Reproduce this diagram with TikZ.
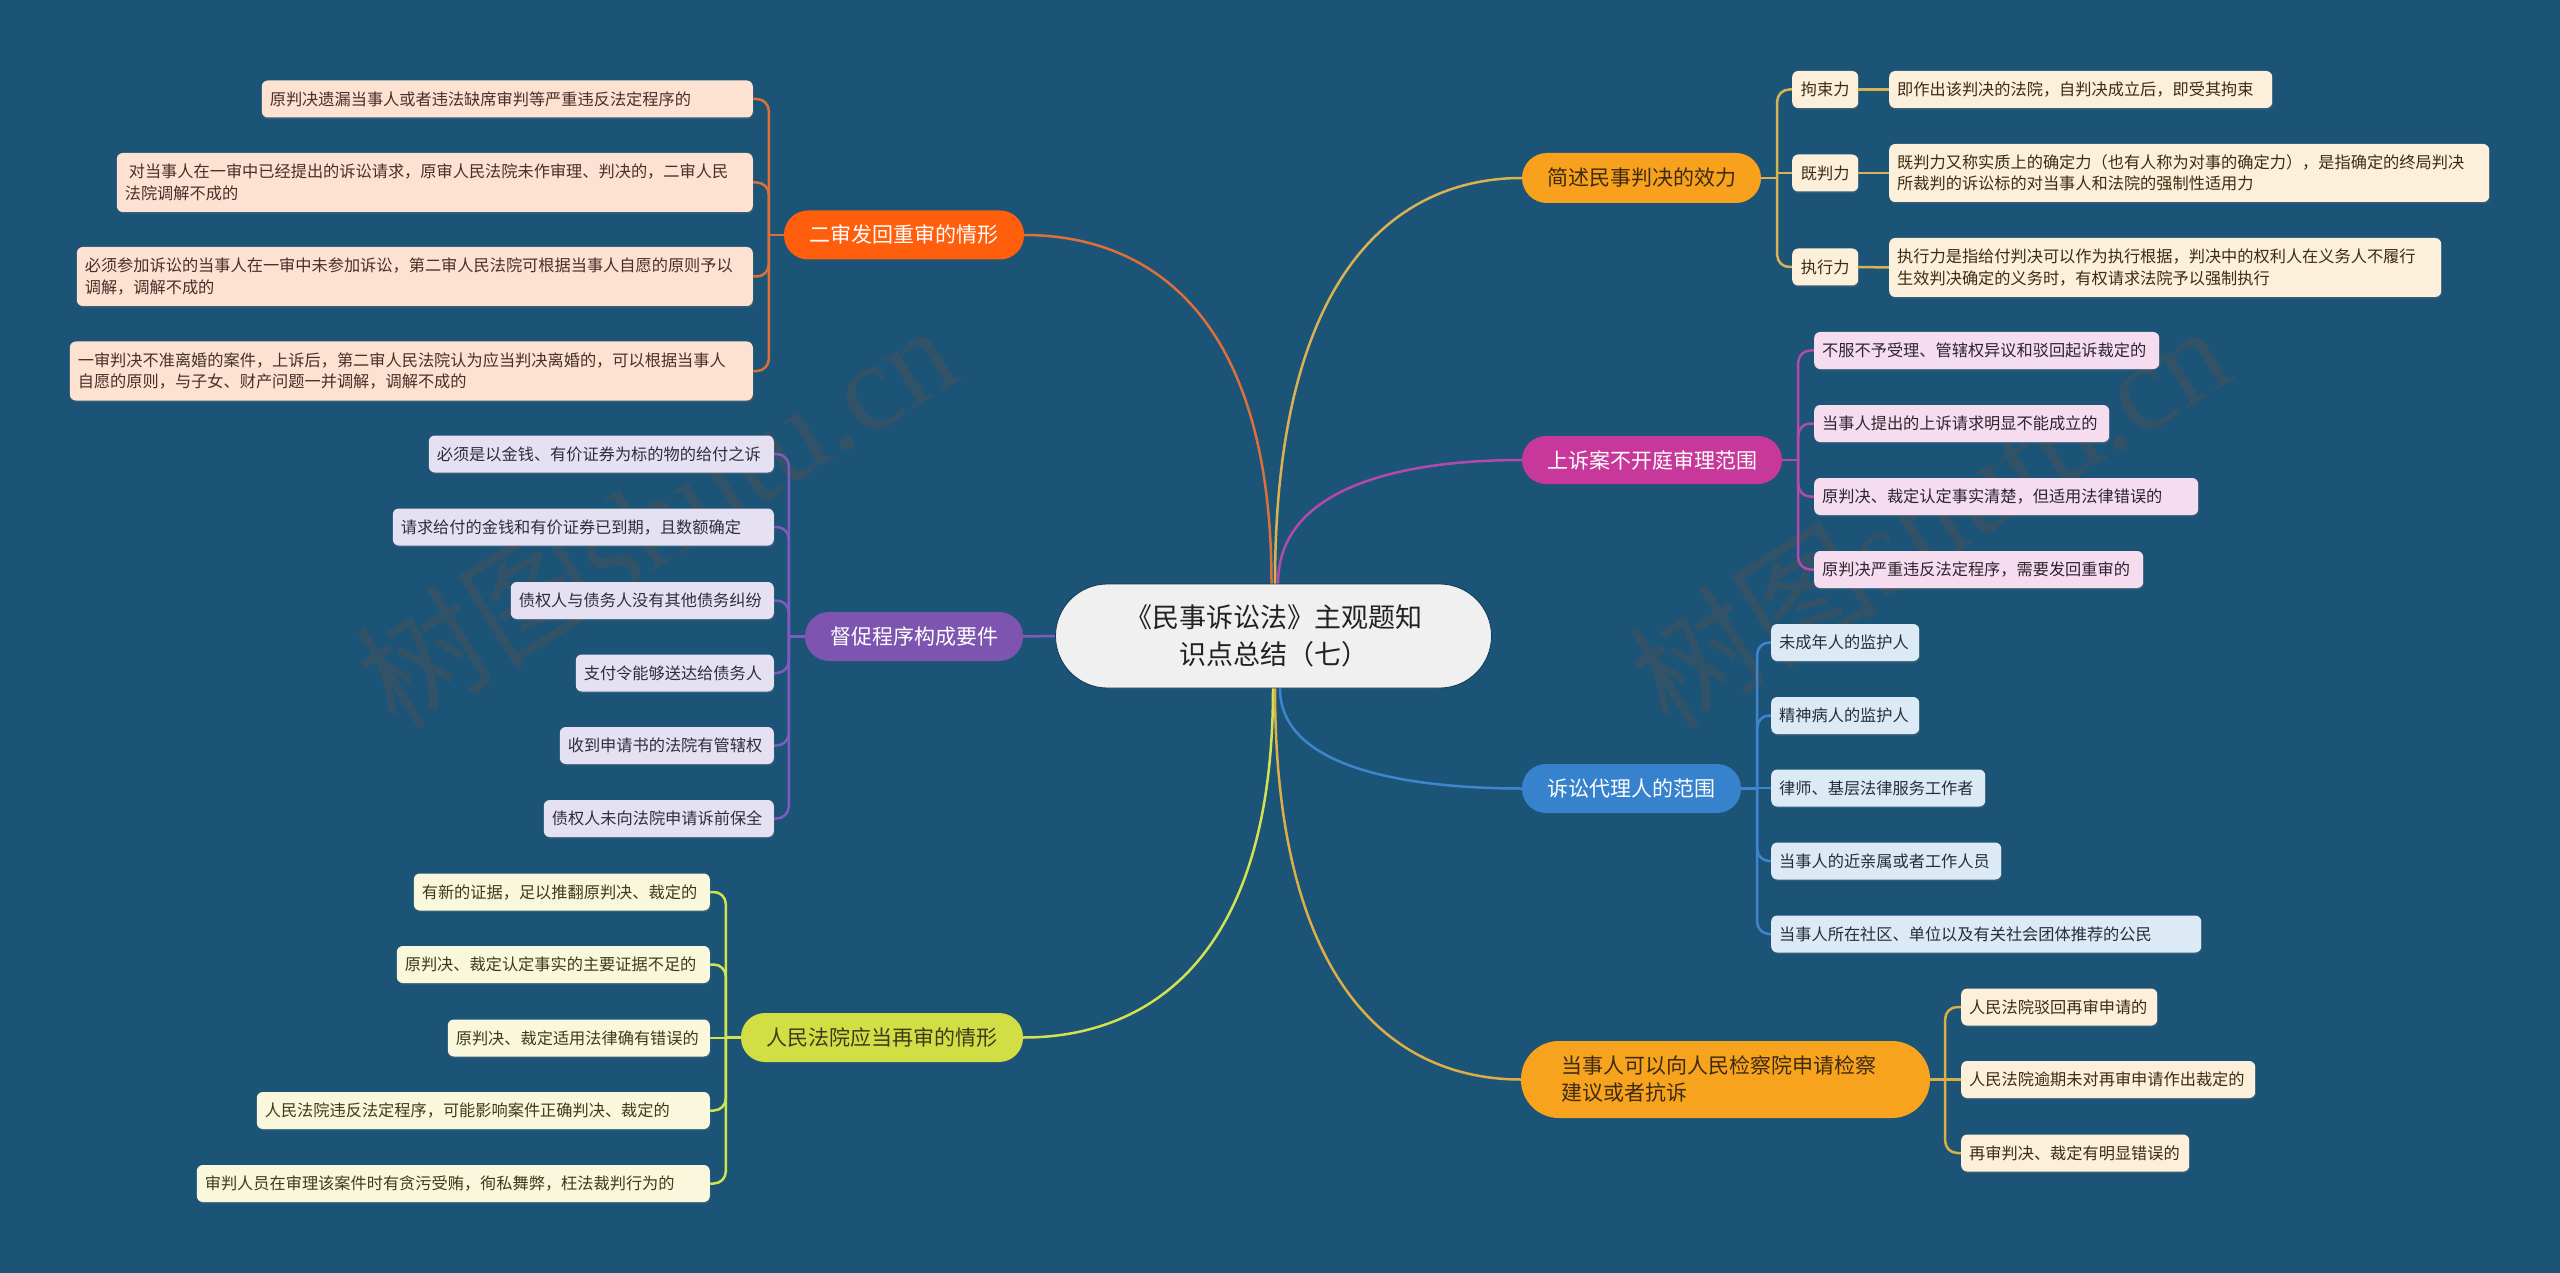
\documentclass[tikz,border=0pt]{standalone}
\usepackage{fontspec}
\setmainfont{Noto Sans CJK SC}
\newfontfamily\wmlatin{Liberation Serif}
\usetikzlibrary{calc,shadows}
\pgfdeclarelayer{back}
\pgfdeclarelayer{conn}
\pgfsetlayers{back,conn,main}

\definecolor{bg}{HTML}{1B5476}
\definecolor{wm}{HTML}{505055}
\definecolor{cfill}{HTML}{F0F0F0}
\definecolor{cedge}{HTML}{0F3A55}
\definecolor{ctext}{HTML}{222222}
\definecolor{brA}{HTML}{FF5E0D}\definecolor{lnA}{HTML}{DC6F3A}\definecolor{lfA}{HTML}{FDE2D1}\definecolor{txA}{HTML}{48302A}
\definecolor{brB}{HTML}{7D55B1}\definecolor{lnB}{HTML}{7E5BBE}\definecolor{lfB}{HTML}{E6E1F2}\definecolor{txB}{HTML}{2E2E3A}
\definecolor{brC}{HTML}{D2DF44}\definecolor{lnC}{HTML}{D3E24F}\definecolor{lfC}{HTML}{FAF8DC}\definecolor{txC}{HTML}{3C3C1C}
\definecolor{brD}{HTML}{F8A11C}\definecolor{lnD}{HTML}{D9B254}\definecolor{lfD}{HTML}{FDF0DA}\definecolor{txD}{HTML}{3D2B12}
\definecolor{brE}{HTML}{C7389A}\definecolor{lnE}{HTML}{B449AD}\definecolor{lfE}{HTML}{F5DCEE}\definecolor{txE}{HTML}{2E2430}
\definecolor{brF}{HTML}{3682CD}\definecolor{lnF}{HTML}{3D86CF}\definecolor{lfF}{HTML}{DCEAF6}\definecolor{txF}{HTML}{22303C}
\definecolor{brG}{HTML}{F8A31D}\definecolor{lnG}{HTML}{DDAD48}\definecolor{lfG}{HTML}{FDF0DA}\definecolor{txG}{HTML}{3D2B12}

\newcommand\leaffont{\fontsize{16.2}{21.5}\selectfont}
\newcommand\brfont{\fontsize{21}{27}\selectfont}
\newcommand\cenfont{\fontsize{27}{37}\selectfont}
\newcommand\wmfont{\fontsize{125}{125}\selectfont}
\newcommand\mmcurve[3]{\draw[#1] (#2) .. controls ($(#2)!0.92!(#2|-#3)$) and ($(#3)!0.3!(#2|-#3)$) .. (#3);}

\tikzset{
  leaf/.style={rounded corners=6pt, inner xsep=8pt, inner ysep=0pt, minimum height=37pt,
    align=left, font=\leaffont,
    drop shadow={opacity=0.25, shadow xshift=0.8pt, shadow yshift=-1.6pt}},
  leafL/.style={leaf, anchor=east},
  leafR/.style={leaf, anchor=west},
  twoline/.style={minimum height=59pt},
  branch/.style={rounded corners=24pt, minimum height=49pt, inner sep=0pt, font=\brfont, align=center},
  conn/.style={line width=2.5pt, line cap=round, line join=round},
  bendconn/.style={conn, rounded corners=12pt},
  wmark/.style={rotate=32, text=wm, opacity=0.45, font=\wmfont, inner sep=0pt}
}

\begin{document}
\begin{tikzpicture}[x=1pt,y=-1pt]
\useasboundingbox (0,0) rectangle (2560,1273);

\begin{pgfonlayer}{back}
\fill[bg] (0,0) rectangle (2560,1273);
\node[wmark] (w1) at (655,515) {树图{\wmlatin shutu.cn}};
\node[wmark] (w2) at (1928,515) {树图{\wmlatin shutu.cn}};
\end{pgfonlayer}

% centre
\node[rounded corners=52pt, minimum width=436pt, minimum height=104pt, inner sep=0pt,
  fill=cfill, draw=cedge, line width=0.8pt, font=\cenfont, align=center, text=ctext]
  (c) at (1273.5,636) {《民事诉讼法》主观题知\\识点总结（七）};

% branches
\node[branch, fill=brA, text=white, minimum width=240pt] (b1) at (904,235) {二审发回重审的情形};
\node[branch, fill=brB, text=white, minimum width=218pt] (b2) at (914,636.5) {督促程序构成要件};
\node[branch, fill=brC, text=txC, minimum width=282pt] (b3) at (882,1037.5) {人民法院应当再审的情形};
\node[branch, fill=brD, text=txD, minimum width=239pt, minimum height=50pt, rounded corners=25pt] (b4) at (1641.5,178) {简述民事判决的效力};
\node[branch, fill=brE, text=white, minimum width=260pt, minimum height=48pt] (b5) at (1652,460) {上诉案不开庭审理范围};
\node[branch, fill=brF, text=white, minimum width=219pt] (b6) at (1631.5,788.5) {诉讼代理人的范围};
\node[branch, fill=brG, text=txG, minimum height=77pt, rounded corners=38pt, inner xsep=40pt,
  text width=329pt, align=left] (b7) at (1725.5,1079.5) {当事人可以向人民检察院申请检察\\建议或者抗诉};

% b1 leaves
\node[leafL, fill=lfA, text=txA, text width=475pt] (a1) at (753,99) {原判决遗漏当事人或者违法缺席审判等严重违反法定程序的};
\node[leafL, twoline, fill=lfA, text=txA, text width=620pt] (a2) at (753,182.5) {\hspace*{4pt}对当事人在一审中已经提出的诉讼请求，原审人民法院未作审理、判决的，二审人民\\法院调解不成的};
\node[leafL, twoline, fill=lfA, text=txA, text width=660pt] (a3) at (753,276.5) {必须参加诉讼的当事人在一审中未参加诉讼，第二审人民法院可根据当事人自愿的原则予以\\调解，调解不成的};
\node[leafL, twoline, fill=lfA, text=txA, text width=667pt] (a4) at (753,371) {一审判决不准离婚的案件，上诉后，第二审人民法院认为应当判决离婚的，可以根据当事人\\自愿的原则，与子女、财产问题一并调解，调解不成的};

% b2 leaves
\node[leafL, fill=lfB, text=txB, text width=329pt] (d1) at (774,454) {必须是以金钱、有价证券为标的物的给付之诉};
\node[leafL, fill=lfB, text=txB, text width=365pt] (d2) at (774,527) {请求给付的金钱和有价证券已到期，且数额确定};
\node[leafL, fill=lfB, text=txB, text width=247pt] (d3) at (774,600.5) {债权人与债务人没有其他债务纠纷};
\node[leafL, fill=lfB, text=txB, text width=182pt] (d4) at (774,673) {支付令能够送达给债务人};
\node[leafL, fill=lfB, text=txB, text width=198pt] (d5) at (774,745.5) {收到申请书的法院有管辖权};
\node[leafL, fill=lfB, text=txB, text width=214pt] (d6) at (774,818.5) {债权人未向法院申请诉前保全};

% b3 leaves
\node[leafL, fill=lfC, text=txC, text width=280pt] (e1) at (710,892) {有新的证据，足以推翻原判决、裁定的};
\node[leafL, fill=lfC, text=txC, text width=297pt] (e2) at (710,964.5) {原判决、裁定认定事实的主要证据不足的};
\node[leafL, fill=lfC, text=txC, text width=246pt] (e3) at (710,1038) {原判决、裁定适用法律确有错误的};
\node[leafL, fill=lfC, text=txC, text width=437pt] (e4) at (710,1110.5) {人民法院违反法定程序，可能影响案件正确判决、裁定的};
\node[leafL, fill=lfC, text=txC, text width=497pt] (e5) at (710,1183.5) {审判人员在审理该案件时有贪污受贿，徇私舞弊，枉法裁判行为的};

% b4 sub-labels and leaves
\node[leafR, fill=lfD, text=txD, minimum width=66pt, inner xsep=0pt, align=center] (s1) at (1792,89.5) {拘束力};
\node[leafR, fill=lfD, text=txD, minimum width=66pt, inner xsep=0pt, align=center] (s2) at (1792,173) {既判力};
\node[leafR, fill=lfD, text=txD, minimum width=66pt, inner xsep=0pt, align=center] (s3) at (1792,267) {执行力};
\node[leafR, fill=lfD, text=txD, text width=367pt] (f1) at (1889,89.5) {即作出该判决的法院，自判决成立后，即受其拘束};
\node[leafR, fill=lfD, text=txD, text width=584pt, minimum height=58pt] (f2) at (1889,173) {既判力又称实质上的确定力（也有人称为对事的确定力），是指确定的终局判决\\所裁判的诉讼标的对当事人和法院的强制性适用力};
\node[leafR, twoline, fill=lfD, text=txD, text width=536pt] (f3) at (1889,267.5) {执行力是指给付判决可以作为执行根据，判决中的权利人在义务人不履行\\生效判决确定的义务时，有权请求法院予以强制执行};

% b5 leaves
\node[leafR, fill=lfE, text=txE, text width=329pt] (g1) at (1814,350.5) {不服不予受理、管辖权异议和驳回起诉裁定的};
\node[leafR, fill=lfE, text=txE, text width=279pt] (g2) at (1814,423.5) {当事人提出的上诉请求明显不能成立的};
\node[leafR, fill=lfE, text=txE, text width=368pt] (g3) at (1814,496.5) {原判决、裁定认定事实清楚，但适用法律错误的};
\node[leafR, fill=lfE, text=txE, text width=313pt] (g4) at (1814,569.5) {原判决严重违反法定程序，需要发回重审的};

% b6 leaves
\node[leafR, fill=lfF, text=txF, text width=132pt] (h1) at (1771,642.5) {未成年人的监护人};
\node[leafR, fill=lfF, text=txF, text width=132pt] (h2) at (1771,715.5) {精神病人的监护人};
\node[leafR, fill=lfF, text=txF, text width=198pt] (h3) at (1771,788) {律师、基层法律服务工作者};
\node[leafR, fill=lfF, text=txF, text width=214pt] (h4) at (1771,861) {当事人的近亲属或者工作人员};
\node[leafR, fill=lfF, text=txF, text width=414pt] (h5) at (1771,934) {当事人所在社区、单位以及有关社会团体推荐的公民};

% b7 leaves
\node[leafR, fill=lfG, text=txG, text width=180pt] (k1) at (1961,1007) {人民法院驳回再审申请的};
\node[leafR, fill=lfG, text=txG, text width=278pt] (k2) at (1961,1079.5) {人民法院逾期未对再审申请作出裁定的};
\node[leafR, fill=lfG, text=txG, text width=212pt] (k3) at (1961,1153) {再审判决、裁定有明显错误的};

% connectors
\begin{pgfonlayer}{conn}
\coordinate (t1) at ([xshift=-2pt]c.north);
\coordinate (t4) at ([xshift=1.5pt]c.north);
\coordinate (t5) at ([xshift=4.5pt]c.north);
\coordinate (u3) at ([xshift=-0.5pt]c.south);
\coordinate (u7) at ([xshift=1.5pt]c.south);
\coordinate (u6) at ([xshift=6.5pt]c.south);
\mmcurve{conn,lnA}{t1}{b1.east}
\mmcurve{conn,lnD}{t4}{b4.west}
\mmcurve{conn,lnE}{t5}{b5.west}
\mmcurve{conn,lnC}{u3}{b3.east}
\mmcurve{conn,lnG}{u7}{b7.west}
\mmcurve{conn,lnF}{u6}{b6.west}
\draw[conn,lnB] (c.west) -- (b2.east);

\draw[conn,lnA] (b1.west) -- ++(-15,0) coordinate (j1);
\foreach \n in {a1,a2,a3,a4} \draw[bendconn,lnA] (j1) -- (j1|-\n.east) -- (\n.east);

\draw[conn,lnB] (b2.west) -- ++(-16,0) coordinate (j2);
\foreach \n in {d1,d2,d3,d4,d5,d6} \draw[bendconn,lnB] (j2) -- (j2|-\n.east) -- (\n.east);

\draw[conn,lnC] (b3.west) -- ++(-15,0) coordinate (j3);
\foreach \n in {e1,e2,e4,e5} \draw[bendconn,lnC] (j3) -- (j3|-\n.east) -- (\n.east);
\draw[conn,lnC] (j3) -- (j3|-e3.east) -- (e3.east);

\draw[conn,lnD] (b4.east) -- ++(16,0) coordinate (j4);
\foreach \n in {s1,s3} \draw[bendconn,lnD] (j4) -- (j4|-\n.west) -- (\n.west);
\draw[conn,lnD] (j4) -- (j4|-s2.west) -- (s2.west);
\draw[conn,lnD] (s1.east) -- (f1.west);
\draw[conn,lnD] (s2.east) -- (f2.west);
\draw[conn,lnD] (s3.east) -- (f3.west);

\draw[conn,lnE] (b5.east) -- ++(16,0) coordinate (j5);
\foreach \n in {g1,g2,g3,g4} \draw[bendconn,lnE] (j5) -- (j5|-\n.west) -- (\n.west);

\draw[conn,lnF] (b6.east) -- ++(16,0) coordinate (j6);
\foreach \n in {h1,h2,h4,h5} \draw[bendconn,lnF] (j6) -- (j6|-\n.west) -- (\n.west);
\draw[conn,lnF] (j6) -- (j6|-h3.west) -- (h3.west);

\draw[conn,lnG] (b7.east) -- ++(15,0) coordinate (j7);
\foreach \n in {k1,k3} \draw[bendconn,lnG] (j7) -- (j7|-\n.west) -- (\n.west);
\draw[conn,lnG] (j7) -- (j7|-k2.west) -- (k2.west);
\end{pgfonlayer}
\end{tikzpicture}
\end{document}
